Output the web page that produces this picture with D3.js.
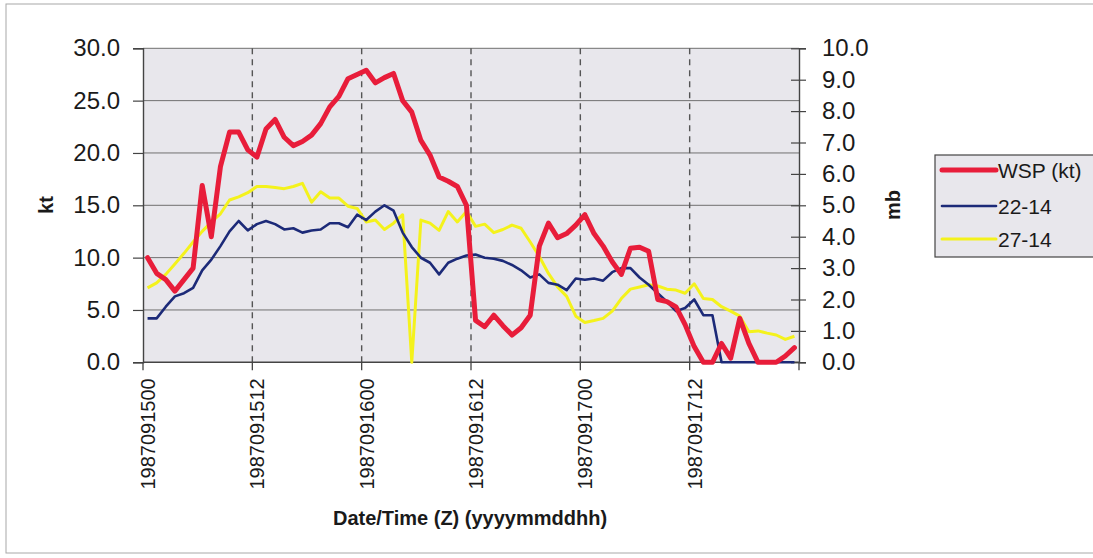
<!DOCTYPE html>
<html>
<head>
<meta charset="utf-8">
<script src="https://cdn.jsdelivr.net/npm/d3@7"></script>
<style>
  html, body { margin: 0; padding: 0; background: #ffffff; }
  svg { display: block; font-family: "Liberation Sans", Arial, sans-serif; }
</style>
</head>
<body>
<svg id="chart" width="1093" height="558"></svg>
<script>
// ---------- DATA ----------
const categories = [
  "1987091500","1987091501","1987091502","1987091503","1987091504","1987091505",
  "1987091506","1987091507","1987091508","1987091509","1987091510","1987091511",
  "1987091512","1987091513","1987091514","1987091515","1987091516","1987091517",
  "1987091518","1987091519","1987091520","1987091521","1987091522","1987091523",
  "1987091600","1987091601","1987091602","1987091603","1987091604","1987091605",
  "1987091606","1987091607","1987091608","1987091609","1987091610","1987091611",
  "1987091612","1987091613","1987091614","1987091615","1987091616","1987091617",
  "1987091618","1987091619","1987091620","1987091621","1987091622","1987091623",
  "1987091700","1987091701","1987091702","1987091703","1987091704","1987091705",
  "1987091706","1987091707","1987091708","1987091709","1987091710","1987091711",
  "1987091712","1987091713","1987091714","1987091715","1987091716","1987091717",
  "1987091718","1987091719","1987091720","1987091721","1987091722","1987091723"
];
const tickLabels = ["1987091500","1987091512","1987091600","1987091612","1987091700","1987091712"];

// WSP (kt) - left axis
const wsp = [
  10.0, 8.5, 7.9, 6.8, 7.9, 9.0, 16.9, 12.0, 18.7, 22.0,
  22.0, 20.3, 19.6, 22.3, 23.2, 21.5, 20.7, 21.1, 21.7, 22.8,
  24.4, 25.4, 27.1, 27.5, 27.9, 26.7, 27.2, 27.6, 25.0, 23.9,
  21.2, 19.8, 17.7, 17.3, 16.8, 15.0, 4.0, 3.4, 4.5, 3.5,
  2.6, 3.3, 4.5, 11.1, 13.3, 11.9, 12.3, 13.1, 14.1, 12.3,
  11.1, 9.6, 8.4, 10.9, 11.0, 10.6, 6.0, 5.8, 5.3, 3.6,
  1.5, 0.0, 0.0, 1.8, 0.4, 4.2, 1.8, 0.0, 0.0, 0.0,
  0.6, 1.4
];
// 22-14 (mb) - right axis
const p2214 = [
  1.40, 1.40, 1.77, 2.10, 2.20, 2.37, 2.93, 3.27, 3.70, 4.17,
  4.50, 4.20, 4.40, 4.50, 4.40, 4.23, 4.27, 4.13, 4.20, 4.23,
  4.43, 4.43, 4.30, 4.70, 4.53, 4.80, 5.00, 4.83, 4.13, 3.67,
  3.33, 3.17, 2.80, 3.17, 3.30, 3.40, 3.43, 3.33, 3.30, 3.23,
  3.10, 2.93, 2.70, 2.80, 2.53, 2.47, 2.30, 2.67, 2.63, 2.67,
  2.60, 2.87, 3.00, 3.00, 2.70, 2.47, 2.20, 1.93, 1.63, 1.73,
  2.00, 1.50, 1.50, 0, 0, 0, 0, 0, 0, 0,
  0, 0
];
// 27-14 (mb) - right axis
const p2714 = [
  2.37, 2.53, 2.80, 3.13, 3.47, 3.83, 4.17, 4.47, 4.73, 5.17,
  5.27, 5.40, 5.60, 5.60, 5.57, 5.53, 5.60, 5.70, 5.10, 5.43,
  5.23, 5.23, 4.97, 4.90, 4.47, 4.53, 4.23, 4.43, 4.70, 0,
  4.53, 4.43, 4.20, 4.80, 4.47, 4.80, 4.33, 4.40, 4.13, 4.23,
  4.37, 4.27, 3.83, 3.37, 2.83, 2.40, 2.10, 1.47, 1.27, 1.33,
  1.40, 1.63, 2.03, 2.33, 2.40, 2.47, 2.43, 2.33, 2.30, 2.20,
  2.50, 2.03, 2.00, 1.77, 1.63, 1.47, 0.97, 1.00, 0.93, 0.87,
  0.73, 0.83
];
const leftTicks = [0, 5, 10, 15, 20, 25, 30];
const rightTicks = [0, 1, 2, 3, 4, 5, 6, 7, 8, 9, 10];
const seriesNames = ["WSP (kt)", "22-14", "27-14"];

// ---------- LAYOUT ----------
const svg = d3.select("#chart");
const L = 143, R = 799, T = 48.3, B = 362.3;

svg.append("rect").attr("x", 6).attr("y", 4).attr("width", 1100).attr("height", 549)
  .attr("fill", "#ffffff").attr("stroke", "#a8a8a8").attr("stroke-width", 1);

const x = d3.scalePoint().domain(categories).range([L, R]).padding(0.5);
const step = x.step();
const yL = d3.scaleLinear().domain([0, 30]).range([B, T]);
const yR = d3.scaleLinear().domain([0, 10]).range([B, T]);

// plot area
svg.append("rect").attr("x", L).attr("y", T).attr("width", R - L).attr("height", B - T)
  .attr("fill", "#e8e7ec");

// horizontal gridlines
svg.append("g").selectAll("line").data(leftTicks.filter(d => d > 0)).join("line")
  .attr("x1", L).attr("x2", R).attr("y1", d => yL(d)).attr("y2", d => yL(d))
  .attr("stroke", "#707070").attr("stroke-width", 1);

// vertical dashed gridlines at category boundaries
const boundaryIdx = [12, 24, 36, 48, 60];
svg.append("g").selectAll("line").data(boundaryIdx).join("line")
  .attr("x1", d => x(categories[d]) - step / 2).attr("x2", d => x(categories[d]) - step / 2)
  .attr("y1", T).attr("y2", B)
  .attr("stroke", "#555").attr("stroke-width", 1.4).attr("stroke-dasharray", "6,5");

// x tick marks (at boundaries)
const tickIdx = [0, 12, 24, 36, 48, 60, 72];
svg.append("g").selectAll("line").data(tickIdx).join("line")
  .attr("x1", d => L + d * step).attr("x2", d => L + d * step)
  .attr("y1", B).attr("y2", B + 8)
  .attr("stroke", "#444").attr("stroke-width", 1.3);

// left axis
const gL = svg.append("g").attr("transform", `translate(${L},0)`)
  .call(d3.axisLeft(yL).tickValues(leftTicks).tickSize(10).tickPadding(13).tickFormat(d3.format(".1f")));
gL.select(".domain").attr("stroke", "#444").attr("stroke-width", 1.4);
gL.selectAll(".tick line").attr("stroke", "#444").attr("stroke-width", 1.2);
gL.selectAll(".tick text").attr("font-size", 24).attr("fill", "#1a1a1a")
  .attr("font-family", "'Liberation Sans', Arial, sans-serif");

// right axis (ticks crossing the axis)
const gR = svg.append("g").attr("transform", `translate(${R},0)`)
  .call(d3.axisRight(yR).tickValues(rightTicks).tickSize(7).tickPadding(16).tickFormat(d3.format(".1f")));
gR.select(".domain").attr("stroke", "#444").attr("stroke-width", 1.4);
gR.selectAll(".tick line").attr("x1", -8).attr("stroke", "#444").attr("stroke-width", 1.2);
gR.selectAll(".tick text").attr("font-size", 24).attr("fill", "#1a1a1a")
  .attr("font-family", "'Liberation Sans', Arial, sans-serif");

// bottom axis line
svg.append("line").attr("x1", L).attr("x2", R).attr("y1", B).attr("y2", B)
  .attr("stroke", "#444").attr("stroke-width", 1.4);

// x labels (rotated)
const gX = svg.append("g").attr("transform", `translate(0,${B})`)
  .call(d3.axisBottom(x).tickValues(tickLabels).tickSize(0).tickPadding(0));
gX.select(".domain").remove();
gX.selectAll(".tick text")
  .attr("font-size", 20).attr("fill", "#1a1a1a")
  .attr("font-family", "'Liberation Sans', Arial, sans-serif")
  .attr("text-anchor", "end")
  .attr("transform", "translate(0,16) rotate(-90)")
  .attr("x", 0).attr("y", 0).attr("dy", "0.35em");

// series lines
const lineL = d3.line().x((d, i) => x(categories[i])).y(d => yL(d));
const lineR = d3.line().x((d, i) => x(categories[i])).y(d => yR(d));
const colors = ["#e81d3a", "#1c2a78", "#f4f21c"];
const widths = [5, 2.6, 3];

svg.append("path").datum(p2714).attr("d", lineR).attr("fill", "none")
  .attr("stroke", colors[2]).attr("stroke-width", widths[2]).attr("stroke-linejoin", "round");
svg.append("path").datum(p2214).attr("d", lineR).attr("fill", "none")
  .attr("stroke", colors[1]).attr("stroke-width", widths[1]).attr("stroke-linejoin", "round");
svg.append("path").datum(wsp).attr("d", lineL).attr("fill", "none")
  .attr("stroke", colors[0]).attr("stroke-width", widths[0]).attr("stroke-linejoin", "round")
  .attr("stroke-linecap", "round");

// axis titles
svg.append("text").attr("transform", "translate(53,205) rotate(-90)")
  .attr("text-anchor", "middle").attr("font-size", 20).attr("font-weight", "bold")
  .attr("fill", "#1a1a1a").text("kt");
svg.append("text").attr("transform", "translate(900,205) rotate(-90)")
  .attr("text-anchor", "middle").attr("font-size", 20).attr("font-weight", "bold")
  .attr("fill", "#1a1a1a").text("mb");
svg.append("text").attr("x", 470).attr("y", 525)
  .attr("text-anchor", "middle").attr("font-size", 20).attr("font-weight", "bold")
  .attr("fill", "#1a1a1a").text("Date/Time (Z) (yyyymmddhh)");

// legend
const lg = svg.append("g");
lg.append("rect").attr("x", 935).attr("y", 155).attr("width", 170).attr("height", 102)
  .attr("fill", "#e8e7ec").attr("stroke", "#444").attr("stroke-width", 1.2);
const rowsY = [170, 206, 239];
seriesNames.forEach((name, i) => {
  lg.append("line").attr("x1", 942).attr("x2", 996).attr("y1", rowsY[i]).attr("y2", rowsY[i])
    .attr("stroke", colors[i]).attr("stroke-width", widths[i]).attr("stroke-linecap", "round");
  lg.append("text").attr("x", 998).attr("y", rowsY[i]).attr("dy", "0.36em")
    .attr("font-size", 21).attr("fill", "#1a1a1a").text(name);
});
</script>
</body>
</html>
